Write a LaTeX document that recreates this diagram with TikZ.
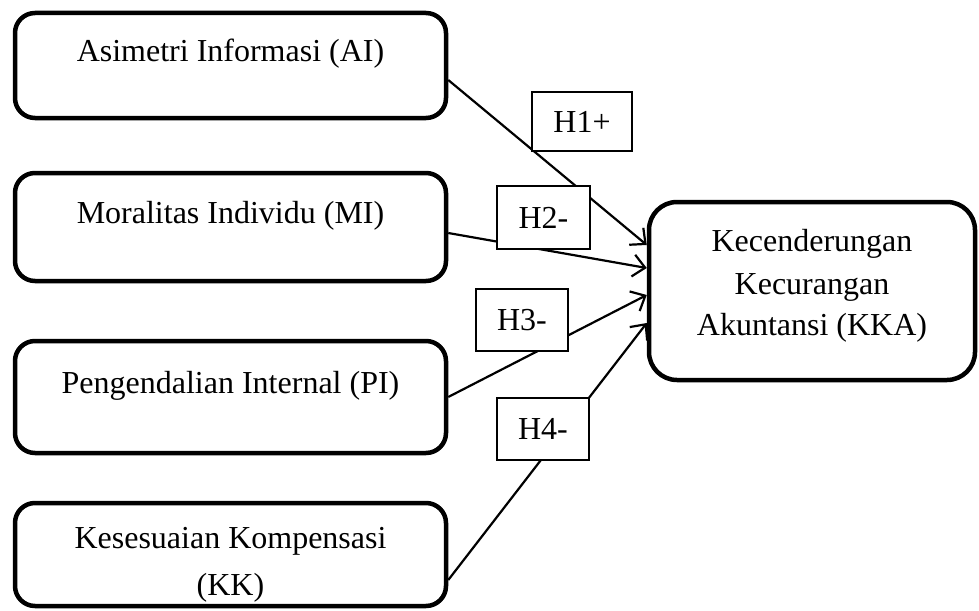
\documentclass[tikz,border=0pt]{standalone}
\usepackage{fontspec}
\setmainfont{Liberation Serif}
\usetikzlibrary{arrows.meta,calc}
\begin{document}
\begin{tikzpicture}[x=1pt,y=-1pt,
  font=\fontsize{32}{44}\selectfont,
  varbox/.style={draw=black, line width=4.5pt, rounded corners=20pt, fill=white, inner sep=0pt, minimum width=431pt},
  kkabox/.style={draw=black, line width=4.5pt, rounded corners=28pt, fill=white, inner sep=0pt, minimum width=326pt, minimum height=178pt},
  hbox/.style={draw=black, line width=1.2pt, fill=white, inner sep=0pt},
  txt/.style={anchor=base, inner sep=0pt},
  conn/.style={line width=2.2pt, -{Straight Barb[length=12pt,width=22pt,line width=2.2pt]}}
]
\useasboundingbox (0,0) rectangle (979,610);
% variable boxes
\node[varbox, minimum height=105pt] (ai) at (230.5,65.5) {};
\node[varbox, minimum height=108pt] (mi) at (230.5,227) {};
\node[varbox, minimum height=112pt] (pi) at (230.5,397) {};
\node[varbox, minimum height=103pt] (kk) at (230.5,554.5) {};
\node[kkabox] (kka) at (812,291) {};
% texts
\node[txt] (ait) at (230.5,62) {Asimetri Informasi (AI)};
\node[txt] (mit) at (230.5,223) {Moralitas Individu (MI)};
\node[txt] (pit) at (230.5,393) {Pengendalian Internal (PI)};
\node[txt] (kkt1) at (230.5,548) {Kesesuaian Kompensasi};
\node[txt] (kkt2) at (230.5,595) {(KK)};
\node[txt] (kkat1) at (812,251) {Kecenderungan};
\node[txt] (kkat2) at (812,294) {Kecurangan};
\node[txt] (kkat3) at (812,335) {Akuntansi (KKA)};
% connectors
\draw[conn] ([yshift=-14.5pt]ai.east) -- ([yshift=46pt]kka.west);
\draw[conn] ([yshift=-6pt]mi.east) -- ([yshift=23pt]kka.west);
\draw[conn] (pi.east) -- ([yshift=-4pt]kka.west);
\draw[conn] ([yshift=-25.5pt]kk.east) -- ([yshift=-32pt]kka.west);
% hypothesis labels
\node[hbox, minimum width=100pt, minimum height=59pt] (h1) at (582,121.5) {H1+};
\node[hbox, minimum width=93pt, minimum height=63pt] (h2) at (543.5,217.5) {H2-};
\node[hbox, minimum width=92pt, minimum height=62pt] (h3) at (522,320) {H3-};
\node[hbox, minimum width=92pt, minimum height=62pt] (h4) at (543,429) {H4-};
\end{tikzpicture}
\end{document}
